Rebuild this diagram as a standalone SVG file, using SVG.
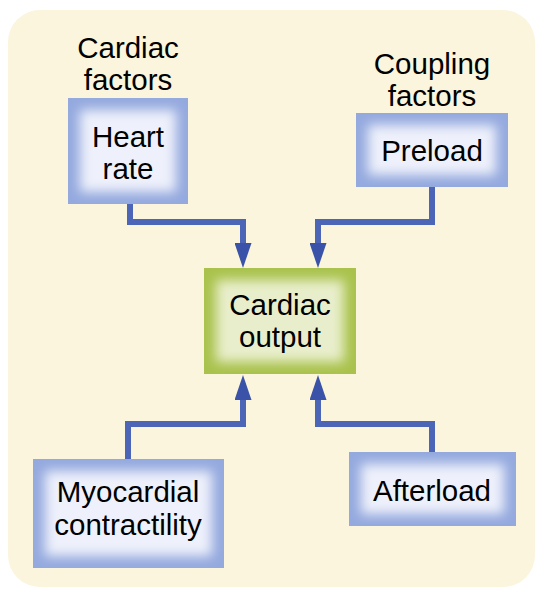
<svg xmlns="http://www.w3.org/2000/svg" width="542" height="600" viewBox="0 0 542 600">
<defs>
<filter id="soft" x="-20%" y="-20%" width="140%" height="140%"><feGaussianBlur stdDeviation="6"/></filter>
<clipPath id="cHR"><rect x="68" y="98" width="120" height="106"/></clipPath>
<clipPath id="cPL"><rect x="356" y="113" width="152" height="74"/></clipPath>
<clipPath id="cCO"><rect x="204" y="268" width="152" height="106"/></clipPath>
<clipPath id="cMC"><rect x="33" y="459" width="191" height="109"/></clipPath>
<clipPath id="cAL"><rect x="349" y="452" width="167" height="74"/></clipPath>
<marker id="ah" markerWidth="25" markerHeight="17" refX="5" refY="8.5" orient="auto" markerUnits="userSpaceOnUse" viewBox="0 0 25 17">
<path d="M0,0 L25,8.5 L0,17 Z" fill="#3a53a8"/>
</marker>
</defs>
<style>
.t{font-family:"Liberation Sans",Arial,sans-serif;font-size:29.5px;fill:#000;text-anchor:middle}
.bo{fill:#94a9de}
.bi{fill:#eef1fb}
.go{fill:#a9c24c}
.gi{fill:#e8eecb}
.ln{fill:none;stroke:#4c65b6;stroke-width:6;stroke-linejoin:miter}
</style>
<rect x="8" y="10" width="527" height="577" rx="32" fill="#faf5dc"/>
<g id="connectors">
<polyline class="ln" points="130,204 130,222 243,222 243,248" marker-end="url(#ah)"/>
<polyline class="ln" points="432,187 432,222 318,222 318,248" marker-end="url(#ah)"/>
<polyline class="ln" points="128,459 128,424 243,424 243,395" marker-end="url(#ah)"/>
<polyline class="ln" points="432,452 432,424 318,424 318,395" marker-end="url(#ah)"/>
</g>
<g id="label-cardiac-factors"><text class="t" x="128" y="58">Cardiac</text><text class="t" x="128" y="90">factors</text></g>
<g id="label-coupling-factors"><text class="t" x="432" y="74">Coupling</text><text class="t" x="432" y="106">factors</text></g>
<g id="heart-rate">
<rect class="bo" x="68" y="98" width="120" height="106"/>
<rect class="bi" x="80" y="110" width="96" height="82" filter="url(#soft)" clip-path="url(#cHR)"/>
<text class="t" x="128" y="147">Heart</text><text class="t" x="128" y="179">rate</text>
</g>
<g id="preload">
<rect class="bo" x="356" y="113" width="152" height="74"/>
<rect class="bi" x="368" y="125" width="128" height="50" filter="url(#soft)" clip-path="url(#cPL)"/>
<text class="t" x="432" y="161">Preload</text>
</g>
<g id="cardiac-output">
<rect class="go" x="204" y="268" width="152" height="106"/>
<rect class="gi" x="216" y="280" width="128" height="82" filter="url(#soft)" clip-path="url(#cCO)"/>
<text class="t" x="280" y="315">Cardiac</text><text class="t" x="280" y="347">output</text>
</g>
<g id="myocardial-contractility">
<rect class="bo" x="33" y="459" width="191" height="109"/>
<rect class="bi" x="45" y="471" width="167" height="85" filter="url(#soft)" clip-path="url(#cMC)"/>
<text class="t" x="128" y="502">Myocardial</text><text class="t" x="128" y="535">contractility</text>
</g>
<g id="afterload">
<rect class="bo" x="349" y="452" width="167" height="74"/>
<rect class="bi" x="361" y="464" width="143" height="50" filter="url(#soft)" clip-path="url(#cAL)"/>
<text class="t" x="432" y="501">Afterload</text>
</g>
</svg>
